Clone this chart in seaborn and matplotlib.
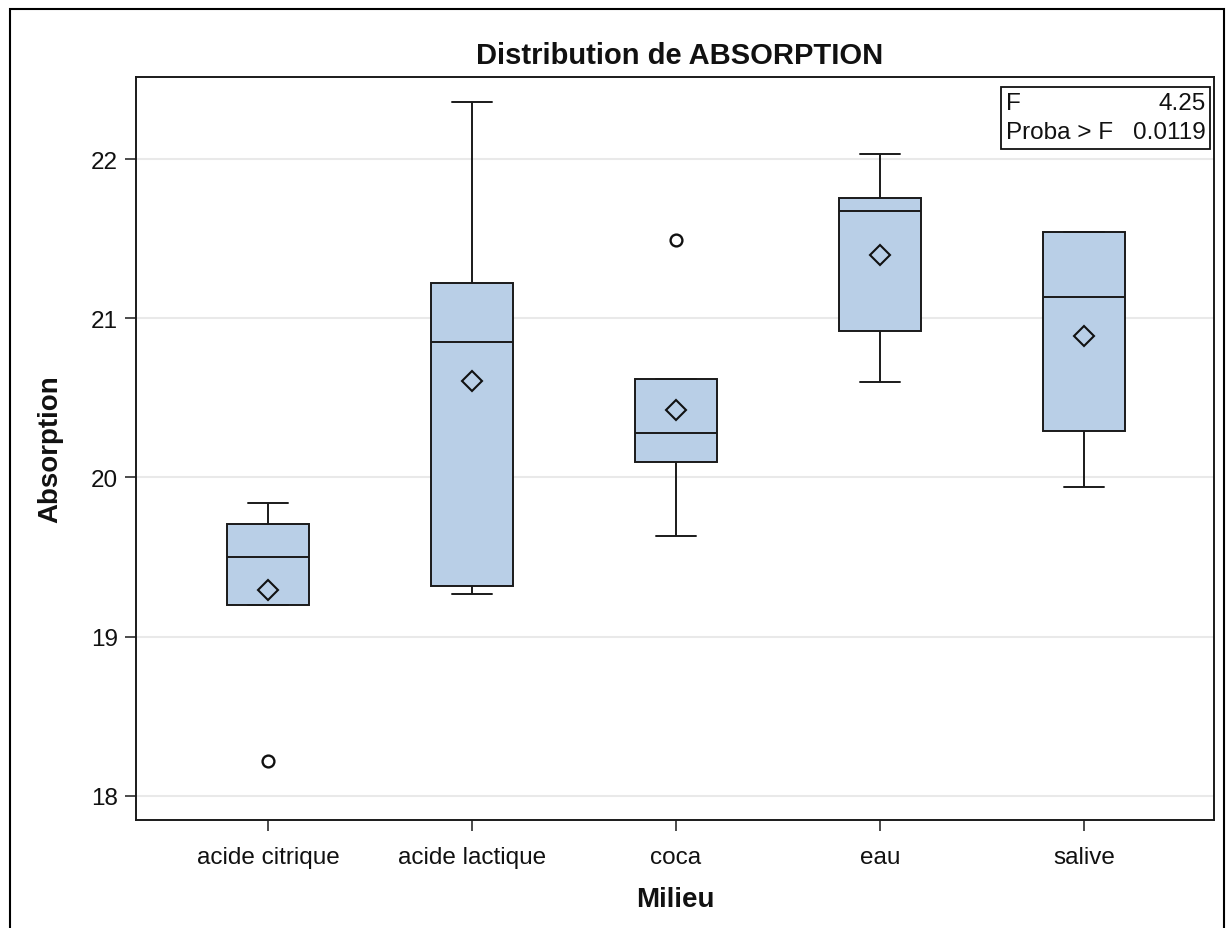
import numpy as np
import pandas as pd
import matplotlib
matplotlib.use("Agg")
import matplotlib.pyplot as plt
import seaborn as sns
from matplotlib.patches import Rectangle

# ---- data ----
categories = ["acide citrique", "acide lactique", "coca", "eau", "salive"]
acide_citrique = [18.22, 19.20, 19.50, 19.71, 19.84]
acide_lactique = [19.27, 19.32, 20.85, 21.22, 22.36]
coca = [19.63, 20.095, 20.28, 20.62, 21.49]
eau = [20.60, 20.92, 21.675, 21.755, 22.03]
salive = [19.94, 20.29, 21.135, 21.54, 21.54]
y_ticks = [18, 19, 20, 21, 22]
stat_labels = ["F", "Proba > F"]
stat_values = ["4.25", "0.0119"]

sns.set_theme(style="white")
plt.rcParams['font.family'] = ['Liberation Sans', 'DejaVu Sans']

values = [acide_citrique, acide_lactique, coca, eau, salive]
df = pd.DataFrame({
    "Milieu": np.repeat(categories, [len(v) for v in values]),
    "Absorption": np.concatenate(values),
})

W, H = 1226, 929
fig = plt.figure(figsize=(W / 100, H / 100), dpi=100)
ax_l, ax_r, ax_t, ax_b = 136, 1214, 78, 821
ax = fig.add_axes([ax_l / W, 1 - ax_b / H, (ax_r - ax_l) / W, (ax_b - ax_t) / H])

edge = "#1a1a1a"
sns.boxplot(
    data=df, x="Milieu", y="Absorption", order=categories,
    color="#B9CFE7", saturation=1, width=0.40,
    linecolor=edge, linewidth=1.4, whis=1.5,
    showmeans=True,
    meanprops=dict(marker="D", markerfacecolor="none", markeredgecolor="#111111",
                   markersize=10, markeredgewidth=1.5),
    flierprops=dict(marker="o", markerfacecolor="none", markeredgecolor="#111111",
                    markersize=8.5, markeredgewidth=1.7),
    ax=ax,
)

ax.set_xlim(-0.647, 4.637)
ax.set_ylim(17.849, 22.515)
ax.set_yticks(y_ticks)
ax.set_yticklabels([str(t) for t in y_ticks])
ax.yaxis.grid(True, color="#e9e9e9", linewidth=1.5)
ax.xaxis.grid(False)
ax.set_axisbelow(True)

for s in ax.spines.values():
    s.set_visible(True)
    s.set_color(edge)
    s.set_linewidth(1.4)

ax.tick_params(axis="both", which="major", bottom=True, left=True, direction="out",
               length=8, width=1.1, color=edge, labelsize=17.5, labelcolor="#111111")
ax.tick_params(axis="x", pad=11)
ax.tick_params(axis="y", pad=5)

ax.set_xlabel("Milieu", fontsize=20, fontweight="bold", labelpad=13, color="#111111")
ax.set_ylabel("Absorption", fontsize=20, fontweight="bold", labelpad=20, color="#111111")

# title
fig.text(680 / W, 1 - 56 / H, "Distribution de ABSORPTION", ha="center", va="center",
         fontsize=21, fontweight="bold", color="#111111")

# inset statistics box
bx0, bx1, by0, by1 = 1001, 1210, 88, 150
fig.patches.append(Rectangle((bx0 / W, 1 - by1 / H), (bx1 - bx0) / W, (by1 - by0) / H,
                             transform=fig.transFigure, fill=False, edgecolor="#111111",
                             linewidth=1.3, zorder=5))
rows_y = [104, 133]
for lab, val, yy in zip(stat_labels, stat_values, rows_y):
    fig.text((bx0 + 5) / W, 1 - yy / H, lab, ha="left", va="center", fontsize=17.5,
             color="#111111")
    fig.text((bx1 - 4) / W, 1 - yy / H, val, ha="right", va="center", fontsize=17.5,
             color="#111111")

# outer figure border (bottom edge falls outside the image)
fig.patches.append(Rectangle((10 / W, -0.05), (1224 - 10) / W, 1.05 - 10 / H,
                             transform=fig.transFigure, fill=False, edgecolor="black",
                             linewidth=1.5, zorder=0))

fig.savefig("out.png", dpi=100)
